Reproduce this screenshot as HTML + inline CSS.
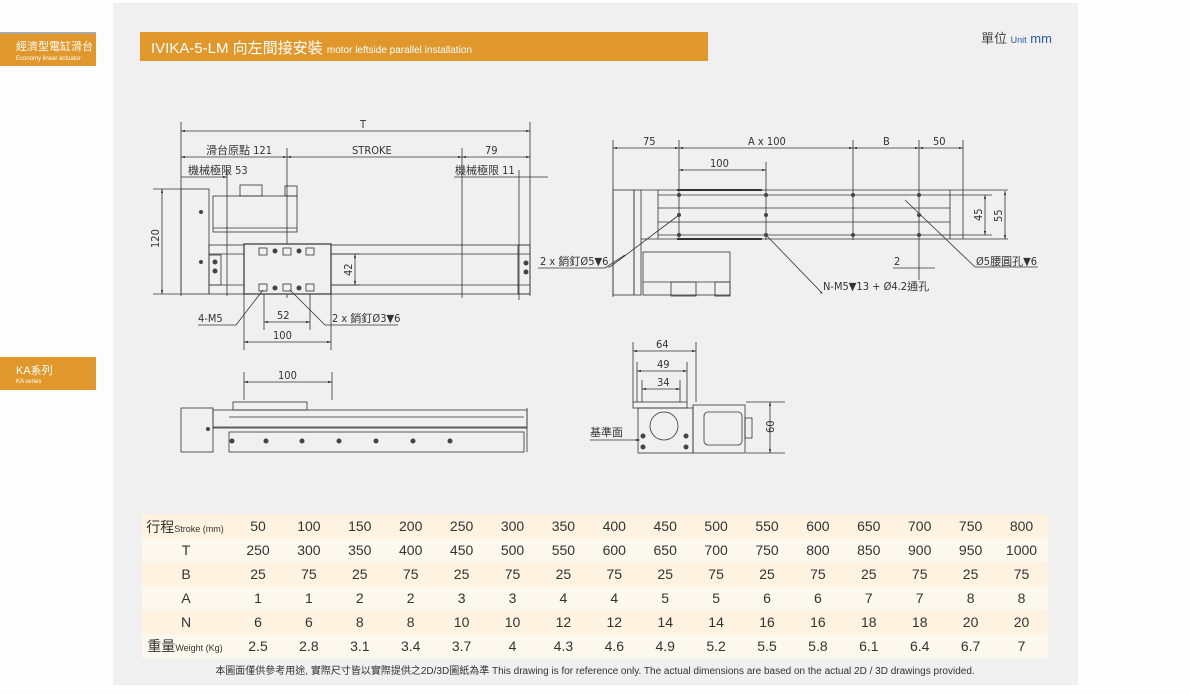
<!DOCTYPE html>
<html><head><meta charset="utf-8"><style>
body{margin:0;width:1190px;height:694px;background:#fdfdfd;position:relative;overflow:hidden;font-family:"Liberation Sans","Noto Sans CJK TC",sans-serif}
svg{position:absolute;left:0;top:0}
</style></head><body>
<svg width="1190" height="694" viewBox="0 0 1190 694" font-family="Liberation Sans, Noto Sans CJK TC, sans-serif">
<defs><marker id="a" viewBox="0 0 10 6" refX="10" refY="3" markerWidth="8" markerHeight="3" orient="auto-start-reverse"><path d="M0 0L10 3L0 6z" fill="#333"/></marker></defs>
<rect x="0" y="32" width="96" height="2" fill="#aaa"/>
<rect x="0" y="34" width="96" height="32" fill="#e0972b"/>
<text x="16" y="50" fill="#fff" font-size="11">經濟型電缸滑台</text>
<text x="16" y="60" fill="#fff" font-size="6">Economy linear actuator</text>
<rect x="0" y="357" width="96" height="33" fill="#e0972b"/>
<text x="16" y="374" fill="#fff" font-size="11">KA系列</text>
<text x="16" y="383" fill="#fff" font-size="6">KA series</text>
<rect x="113" y="3" width="965" height="682" fill="#eff0ef"/>
<rect x="140" y="32" width="568" height="29" fill="#e0972b"/>
<text x="151" y="53" fill="#fff" font-size="15">IVIKA-5-LM 向左間接安裝 <tspan font-size="10">motor leftside parallel installation</tspan></text>
<text x="981" y="43" fill="#444" font-size="13">單位 <tspan font-size="9" fill="#2a5d9f">Unit</tspan> <tspan fill="#2a5d9f">mm</tspan></text>

<g stroke="#333" stroke-width="0.8" fill="none">
<line x1="181" y1="122" x2="181" y2="296"/><line x1="530" y1="122" x2="530" y2="296"/>
<line x1="181" y1="131" x2="530" y2="131" marker-start="url(#a)" marker-end="url(#a)"/>
<line x1="181" y1="157" x2="287" y2="157" marker-start="url(#a)" marker-end="url(#a)"/>
<line x1="287" y1="157" x2="462" y2="157" marker-start="url(#a)" marker-end="url(#a)"/>
<line x1="462" y1="157" x2="530" y2="157" marker-start="url(#a)" marker-end="url(#a)"/>
<line x1="287" y1="148" x2="287" y2="298"/><line x1="462" y1="148" x2="462" y2="298"/>
<line x1="181" y1="177" x2="227" y2="177" marker-end="url(#a)"/><line x1="227" y1="170" x2="227" y2="296"/>
<line x1="454" y1="177" x2="548" y2="177"/><line x1="519" y1="170" x2="519" y2="300"/>
<line x1="153" y1="189" x2="181" y2="189"/><line x1="153" y1="294" x2="181" y2="294"/>
<line x1="162" y1="189" x2="162" y2="294" marker-start="url(#a)" marker-end="url(#a)"/>
<rect x="181" y="189" width="28" height="105"/>
<rect x="213" y="196" width="84" height="36"/><rect x="240" y="185" width="22" height="11"/><rect x="285" y="186" width="12" height="10"/>
<line x1="213" y1="228" x2="297" y2="228"/>
<rect x="209" y="245" width="321" height="49"/><line x1="209" y1="254" x2="530" y2="254"/><line x1="209" y1="285" x2="530" y2="285"/>
<rect x="209" y="255" width="12" height="30"/><rect x="518" y="245" width="12" height="49"/>
<rect x="244" y="244" width="87" height="50" fill="#eff0ef" stroke-width="1.2"/>
<rect x="259" y="248" width="8" height="7"/><rect x="283" y="248" width="8" height="7"/><rect x="306" y="248" width="8" height="7"/>
<rect x="259" y="284" width="8" height="7"/><rect x="283" y="284" width="8" height="7"/><rect x="306" y="284" width="8" height="7"/>
<line x1="331" y1="254" x2="360" y2="254"/><line x1="331" y1="285" x2="360" y2="285"/>
<line x1="355" y1="254" x2="355" y2="285" marker-start="url(#a)" marker-end="url(#a)"/>
<line x1="244" y1="294" x2="244" y2="350"/><line x1="331" y1="294" x2="331" y2="350"/>
<line x1="264" y1="294" x2="264" y2="330"/><line x1="310" y1="294" x2="310" y2="330"/>
<line x1="244" y1="342" x2="331" y2="342" marker-start="url(#a)" marker-end="url(#a)"/>
<line x1="264" y1="322" x2="310" y2="322" marker-start="url(#a)" marker-end="url(#a)"/>
<polyline points="198,325 236,325 263,290"/><polyline points="398,325 325,325 290,290"/>
<polyline points="538,268 605,268 625,255"/>
<line x1="613" y1="140" x2="613" y2="297"/><line x1="679" y1="140" x2="679" y2="240"/><line x1="766" y1="162" x2="766" y2="240"/>
<line x1="853" y1="140" x2="853" y2="240"/><line x1="919" y1="140" x2="919" y2="280"/><line x1="963" y1="140" x2="963" y2="239"/>
<line x1="613" y1="148" x2="679" y2="148" marker-start="url(#a)" marker-end="url(#a)"/>
<line x1="679" y1="148" x2="853" y2="148" marker-start="url(#a)" marker-end="url(#a)"/>
<line x1="853" y1="148" x2="919" y2="148" marker-start="url(#a)" marker-end="url(#a)"/>
<line x1="919" y1="148" x2="963" y2="148" marker-start="url(#a)" marker-end="url(#a)"/>
<line x1="679" y1="170" x2="766" y2="170" marker-start="url(#a)" marker-end="url(#a)"/>
<rect x="613" y="190" width="21" height="105"/><rect x="634" y="190" width="7" height="105"/>
<line x1="641" y1="190" x2="1008" y2="190"/><line x1="641" y1="239" x2="1008" y2="239"/>
<line x1="658" y1="195" x2="992" y2="195"/><line x1="658" y1="208" x2="950" y2="208"/><line x1="658" y1="222" x2="950" y2="222"/><line x1="658" y1="235" x2="992" y2="235"/>
<line x1="658" y1="190" x2="658" y2="239"/><line x1="950" y1="190" x2="950" y2="239"/>
<line x1="677" y1="190" x2="762" y2="190" stroke-width="2"/><line x1="677" y1="239" x2="762" y2="239" stroke-width="2"/>
<line x1="985" y1="195" x2="985" y2="235" marker-start="url(#a)" marker-end="url(#a)"/>
<line x1="1005" y1="191" x2="1005" y2="239" marker-start="url(#a)" marker-end="url(#a)"/>
<rect x="643" y="252" width="87" height="43"/><line x1="643" y1="282" x2="730" y2="282"/><rect x="671" y="282" width="25" height="14"/><rect x="715" y="282" width="15" height="14"/>
<polyline points="608,267 610,267 679,215"/>
<polyline points="820,293 822,293 766,235"/>
<polyline points="1038,267 975,267 905,200"/>
<line x1="893" y1="268" x2="935" y2="268"/>
<line x1="244" y1="372" x2="244" y2="400"/><line x1="332" y1="372" x2="332" y2="400"/>
<line x1="244" y1="382" x2="332" y2="382" marker-start="url(#a)" marker-end="url(#a)"/>
<rect x="181" y="408" width="32" height="44"/>
<rect x="213" y="410" width="314" height="18"/><line x1="213" y1="427" x2="527" y2="427"/>
<rect x="233" y="402" width="74" height="8"/>
<rect x="229" y="432" width="295" height="20"/><line x1="527" y1="408" x2="527" y2="452"/>
<line x1="229" y1="417" x2="524" y2="417"/>
<line x1="633" y1="342" x2="633" y2="402"/><line x1="696" y1="342" x2="696" y2="402"/>
<line x1="633" y1="351" x2="696" y2="351" marker-start="url(#a)" marker-end="url(#a)"/>
<line x1="637" y1="362" x2="637" y2="402"/><line x1="687" y1="362" x2="687" y2="402"/>
<line x1="637" y1="371" x2="687" y2="371" marker-start="url(#a)" marker-end="url(#a)"/>
<line x1="642" y1="380" x2="642" y2="402"/><line x1="680" y1="380" x2="680" y2="402"/>
<line x1="642" y1="389" x2="680" y2="389" marker-start="url(#a)" marker-end="url(#a)"/>
<rect x="633" y="402" width="54" height="6"/>
<rect x="638" y="408" width="55" height="45"/>
<circle cx="664" cy="426" r="14"/>
<rect x="693" y="405" width="52" height="48"/><rect x="704" y="412" width="38" height="33" rx="4"/><rect x="745" y="418" width="7" height="20"/>
<line x1="746" y1="402" x2="785" y2="402"/><line x1="746" y1="453" x2="785" y2="453"/>
<line x1="770" y1="402" x2="770" y2="453" marker-start="url(#a)" marker-end="url(#a)"/>
<line x1="590" y1="440" x2="640" y2="440" marker-end="url(#a)"/>
</g>
<g fill="#444">
<circle cx="201" cy="212" r="2"/><circle cx="201" cy="262" r="2"/><circle cx="215" cy="262" r="2.5"/><circle cx="215" cy="271" r="2.5"/><circle cx="526" cy="263" r="2.5"/><circle cx="526" cy="272" r="2.5"/>
<circle cx="275" cy="251" r="2.5"/><circle cx="299" cy="251" r="2.5"/><circle cx="275" cy="288" r="2.5"/><circle cx="299" cy="288" r="2.5"/>
<circle cx="208" cy="429" r="2"/>
<circle cx="232" cy="441" r="2.5"/><circle cx="266" cy="441" r="2.5"/><circle cx="302" cy="441" r="2.5"/><circle cx="339" cy="441" r="2.5"/><circle cx="376" cy="441" r="2.5"/><circle cx="413" cy="441" r="2.5"/><circle cx="450" cy="441" r="2.5"/>
<circle cx="643" cy="436" r="2.5"/><circle cx="643" cy="447" r="2.5"/><circle cx="686" cy="436" r="2.5"/><circle cx="686" cy="447" r="2.5"/>
<circle cx="679" cy="195" r="2"/><circle cx="766" cy="195" r="2"/><circle cx="853" cy="195" r="2"/><circle cx="919" cy="195" r="2"/>
<circle cx="679" cy="215" r="2"/><circle cx="766" cy="215" r="2"/><circle cx="919" cy="215" r="2"/>
<circle cx="679" cy="235" r="2"/><circle cx="766" cy="235" r="2"/><circle cx="853" cy="235" r="2"/><circle cx="919" cy="235" r="2"/>
</g>
<g fill="#333" font-size="11" font-family="DejaVu Sans Condensed, Liberation Sans, Noto Sans CJK TC, sans-serif">
<text x="360" y="128">T</text>
<text x="206" y="154">滑台原點 121</text><text x="352" y="154">STROKE</text><text x="485" y="154">79</text>
<text x="188" y="174">機械極限 53</text><text x="455" y="174">機械極限 11</text>
<text x="159" y="248" transform="rotate(-90 159 248)">120</text>
<text x="352" y="276" transform="rotate(-90 352 276)">42</text>
<text x="198" y="322">4-M5</text><text x="277" y="319">52</text><text x="332" y="322">2 x 銷釘Ø3▼6</text><text x="273" y="339">100</text>
<text x="540" y="265">2 x 銷釘Ø5▼6</text>
<text x="643" y="145">75</text><text x="748" y="145">A x 100</text><text x="883" y="145">B</text><text x="933" y="145">50</text><text x="710" y="167">100</text>
<text x="982" y="221" transform="rotate(-90 982 221)">45</text><text x="1002" y="222" transform="rotate(-90 1002 222)">55</text>
<text x="894" y="265">2</text><text x="976" y="265">Ø5腰圓孔▼6</text><text x="823" y="290">N-M5▼13 + Ø4.2通孔</text>
<text x="278" y="379">100</text>
<text x="656" y="348">64</text><text x="657" y="368">49</text><text x="657" y="386">34</text>
<text x="590" y="436">基準面</text>
<text x="774" y="433" transform="rotate(-90 774 433)">60</text>
</g>
<rect x="142" y="514" width="906" height="24" fill="#fdf3e0"/>
<rect x="142" y="538" width="906" height="24" fill="#fdf8ee"/>
<rect x="142" y="562" width="906" height="24" fill="#fdf3e0"/>
<rect x="142" y="586" width="906" height="24" fill="#fdf8ee"/>
<rect x="142" y="610" width="906" height="24" fill="#fdf3e0"/>
<rect x="142" y="634" width="906" height="24" fill="#fdf8ee"/>
<g fill="#333" font-size="14" text-anchor="middle">
<text x="185" y="532" font-size="14">行程<tspan font-size="9">Stroke (mm)</tspan></text>
<text x="186" y="555">T</text><text x="186" y="579">B</text><text x="186" y="603">A</text><text x="186" y="627">N</text>
<text x="185" y="651">重量<tspan font-size="9">Weight (Kg)</tspan></text>
</g>
<g fill="#333" font-size="14" text-anchor="middle" id="vals"></g>
<text x="595" y="674" fill="#333" font-size="10" text-anchor="middle">本圖面僅供參考用途, 實際尺寸皆以實際提供之2D/3D圖紙為準 This drawing is for reference only. The actual dimensions are based on the actual 2D / 3D drawings provided.</text>
</svg>
<script>
var rows=[[50,100,150,200,250,300,350,400,450,500,550,600,650,700,750,800],
[250,300,350,400,450,500,550,600,650,700,750,800,850,900,950,1000],
[25,75,25,75,25,75,25,75,25,75,25,75,25,75,25,75],
[1,1,2,2,3,3,4,4,5,5,6,6,7,7,8,8],
[6,6,8,8,10,10,12,12,14,14,16,16,18,18,20,20],
["2.5","2.8","3.1","3.4","3.7","4","4.3","4.6","4.9","5.2","5.5","5.8","6.1","6.4","6.7","7"]];
var g=document.getElementById('vals'),s='';
rows.forEach(function(r,i){r.forEach(function(v,j){s+='<text x="'+(258+j*50.9)+'" y="'+(531+i*24)+'">'+v+'</text>';});});
g.innerHTML=s;
</script>
</body></html>
